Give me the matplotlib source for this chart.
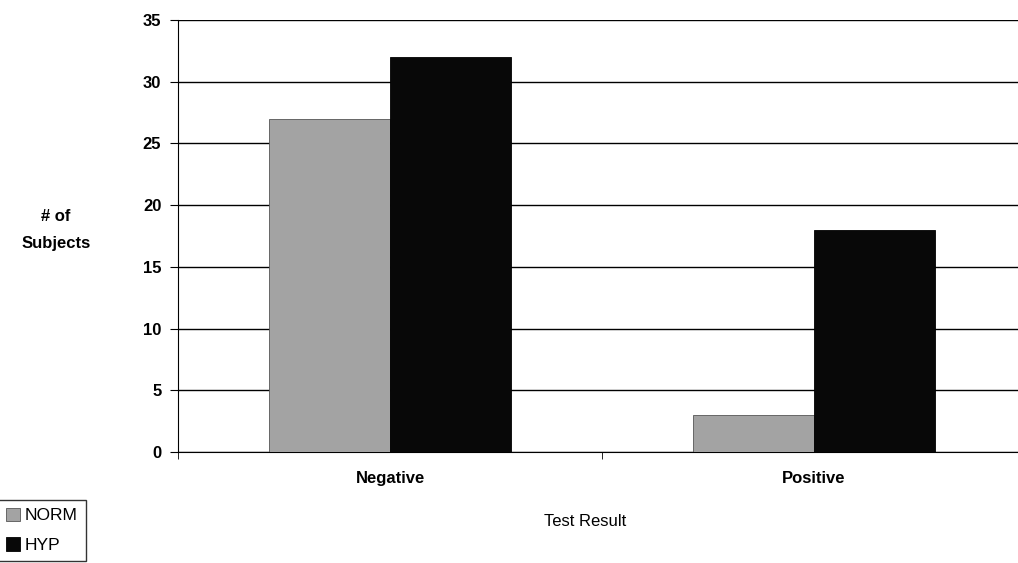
import matplotlib
matplotlib.use("Agg")
import matplotlib.pyplot as plt
import numpy as np

categories = ["Negative", "Positive"]
norm_vals = [27, 3]
hyp_vals = [32, 18]
yticks = [0, 5, 10, 15, 20, 25, 30, 35]

plt.rcParams['font.family'] = ['Liberation Sans', 'DejaVu Sans']

fig = plt.figure(figsize=(10.18, 5.63), dpi=100)
ax = fig.add_axes([178 / 1018, 111 / 563, 848 / 1018, 432 / 563])

x = np.arange(len(categories))
w = 0.2857
b1 = ax.bar(x - w / 2, norm_vals, w, color="#a3a3a3", edgecolor="#555555", linewidth=0.6, label="NORM", zorder=3)
b2 = ax.bar(x + w / 2, hyp_vals, w, color="#080808", edgecolor="#000000", linewidth=0.6, label="HYP", zorder=3)

ax.set_xlim(-0.5, 1.5)
ax.set_ylim(0, 35)
ax.set_yticks(yticks)
ax.set_yticklabels([str(v) for v in yticks], fontsize=12, fontweight="bold")
ax.yaxis.grid(True, color="black", linewidth=1.0, zorder=0)
ax.set_axisbelow(True)

ax.set_xticks(x)
ax.set_xticklabels(categories, fontsize=12, fontweight="bold")
ax.tick_params(axis="x", which="major", length=0, pad=14)
ax.set_xticks([-0.5, 0.5, 1.5], minor=True)
ax.tick_params(axis="x", which="minor", length=5, direction="out", color="black")
ax.tick_params(axis="y", length=6, direction="out", color="black", pad=6)

for s in ["top", "right"]:
    ax.spines[s].set_visible(False)
ax.spines["left"].set_color("black")
ax.spines["bottom"].set_color("black")

fig.text(585 / 1018, 1 - 521 / 563, "Test Result", ha="center", va="center", fontsize=12)
fig.text(56 / 1018, 1 - 230 / 563, "# of\nSubjects", ha="center", va="center",
         fontsize=12, fontweight="bold", linespacing=2.0)

leg = fig.legend(handles=[b1, b2], labels=["NORM", "HYP"], loc="lower left",
                 bbox_to_anchor=(-0.002, 0.004), fontsize=12.5, frameon=True, fancybox=False,
                 edgecolor="black", handlelength=0.8, handleheight=0.8, handletextpad=0.3,
                 borderpad=0.45, labelspacing=0.8, borderaxespad=0.0)
leg.get_frame().set_linewidth(1.0)

fig.savefig("out.png", dpi=100)
